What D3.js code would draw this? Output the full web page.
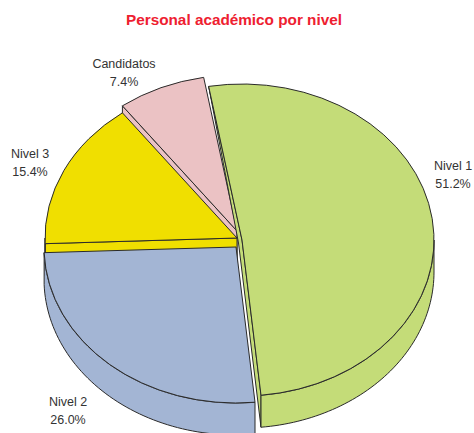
<!DOCTYPE html>
<html lang="es">
<head>
<meta charset="UTF-8">
<script src="https://d3js.org/d3.v7.min.js"></script>
<title>Personal académico por nivel</title>
<style>
  html, body { margin: 0; background: #fff; overflow: hidden; }
  svg { display: block; }
  text { font-family: "Liberation Sans", Arial, sans-serif; }
</style>
</head>
<body>
<script>
// datos
var categories = ["Nivel 1", "Nivel 2", "Nivel 3", "Candidatos"];
var values = [51.2, 26.0, 15.4, 7.4];
var colors = ["#c4dc78", "#a3b5d4", "#f0df00", "#ebc2c4"];

var width = 474, height = 433;
var rx = 192, ry = 156, depth = 32;
// apex of every slice after it was pulled out
var apexX = [242, 236, 237, 237];
var apexY = [240, 247, 238, 231];
var labelX = [453, 68, 30, 124];
var labelY = [170, 406, 158, 68];
var startAngle = -10 * Math.PI / 180;

var svg = d3.select("body").append("svg").attr("width", width).attr("height", height);

svg.append("text").attr("x", 234).attr("y", 25).attr("text-anchor", "middle")
  .style("font-size", "15.3px").style("font-weight", "bold").style("fill", "#ee2030")
  .text("Personal académico por nivel");

var pie = d3.pie().sort(null).startAngle(startAngle).endAngle(startAngle + 2 * Math.PI);
var slices = pie(values);

var face = d3.arc().innerRadius(0).outerRadius(rx);
var line = d3.line();

function pt(i, a, dy) {
  return [apexX[i] + rx * Math.sin(a), apexY[i] - ry * Math.cos(a) + dy];
}

// outer wall, only the part that faces the viewer (90deg to 270deg)
function rimPath(s, i) {
  var a0 = Math.max(s.startAngle, Math.PI / 2), a1 = Math.min(s.endAngle, 3 * Math.PI / 2);
  if (a1 <= a0) return null;
  var n = 60, top = [], bottom = [];
  for (var k = 0; k <= n; k++) {
    var a = a0 + (a1 - a0) * k / n;
    top.push(pt(i, a, 0));
    bottom.unshift(pt(i, a, depth));
  }
  return line(top.concat(bottom)) + "Z";
}

// flat wall along one radius
function sidePath(i, a) {
  var c = [apexX[i], apexY[i]], o = pt(i, a, 0);
  return line([c, o, [o[0], o[1] + depth], [c[0], c[1] + depth]]) + "Z";
}

// the big slice shows a thin strip on its cut side, bent at the apex
function stripPath(s, i) {
  var c = [apexX[i], apexY[i]], o0 = pt(i, s.startAngle, 0), o1 = pt(i, s.endAngle, 0);
  return line([o0, c, o1, [o1[0], o1[1] + depth], [c[0] - 3.5, c[1] + 3]]) + "Z";
}

// back to front
var order = [3, 2, 1, 0];
order.forEach(function (i) {
  var s = slices[i];
  var g = svg.append("g").attr("fill", colors[i]).attr("stroke", "#2a2a2a").attr("stroke-width", 1).attr("stroke-linejoin", "round");
  if (i >= 2) g.append("path").attr("d", sidePath(i, s.startAngle));
  if (i == 0) g.append("path").attr("d", stripPath(s, i));
  var rim = rimPath(s, i);
  if (rim) g.append("path").attr("d", rim);
  g.append("path")
    .attr("d", face({ startAngle: s.startAngle, endAngle: s.endAngle }))
    .attr("transform", "translate(" + apexX[i] + "," + apexY[i] + ") scale(1," + (ry / rx) + ")")
    .attr("vector-effect", "non-scaling-stroke");
});

categories.forEach(function (c, i) {
  var t = svg.append("text").attr("text-anchor", "middle").style("font-size", "12.5px").style("fill", "#333");
  t.append("tspan").attr("x", labelX[i]).attr("y", labelY[i]).text(c);
  t.append("tspan").attr("x", labelX[i]).attr("y", labelY[i] + 17.5).text(values[i].toFixed(1) + "%");
});
</script>
</body>
</html>
